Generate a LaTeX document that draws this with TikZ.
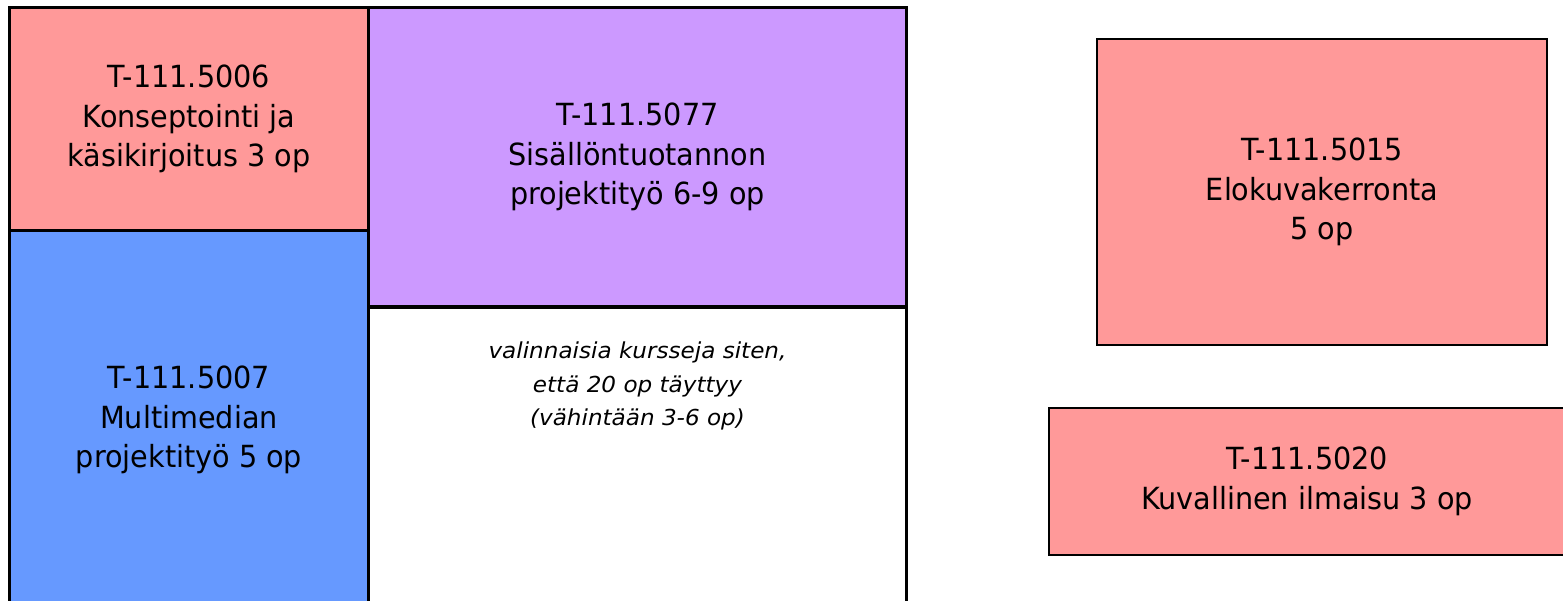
\documentclass[tikz,border=0pt]{standalone}
\usepackage{fontspec}
\setmainfont{DejaVu Sans}[FakeStretch=0.94]
\newfontfamily\notefont{DejaVu Sans}[FakeStretch=1.05]
\definecolor{cpink}{HTML}{FF9999}
\definecolor{cpurple}{HTML}{CC99FF}
\definecolor{cblue}{HTML}{6699FF}
\tikzset{
  course/.style={draw=black, line width=3.4pt, inner sep=0pt, outer sep=0pt, align=center,
    font=\fontsize{30.5}{39.5}\selectfont},
  sidecourse/.style={course, line width=2.3pt},
  note/.style={align=center, inner sep=0pt, font=\notefont\itshape\fontsize{22}{33.5}\selectfont}
}
\begin{document}
\begin{tikzpicture}[x=1pt,y=-1pt]
\useasboundingbox (0,0) rectangle (1563,601);
\clip (0,0) rectangle (1563,601);
\fill[white] (0,0) rectangle (1563,601);
% left block
\node[course, fill=cpink, minimum width=359pt, minimum height=223pt] (konsept) at (189,119)
  {T-111.5006\\Konseptointi ja\\käsikirjoitus 3 op};
\node[course, fill=cblue, minimum width=359pt, minimum height=379.5pt] (multi) at (189,420.25)
  {T-111.5007\\Multimedian\\projektityö 5 op};
\node[course, fill=white, minimum width=538pt, minimum height=303pt] (valinn) at (637.5,458.5) {};
\node[course, fill=cpurple, minimum width=538pt, minimum height=299.5pt] (sisal) at (637.5,157.25)
  {T-111.5077\\Sisällöntuotannon\\projektityö 6-9 op};
\node[note] (notetext) at (637.5,386) {valinnaisia kursseja siten,\\että 20 op täyttyy\\(vähintään 3-6 op)};
% right boxes
\node[sidecourse, fill=cpink, minimum width=450pt, minimum height=306pt] (elok) at (1322,192)
  {T-111.5015\\Elokuvakerronta\\5 op};
\node[sidecourse, fill=cpink, minimum width=516pt, minimum height=147pt] (kuval) at (1307,481.5)
  {T-111.5020\\Kuvallinen ilmaisu 3 op};
\end{tikzpicture}
\end{document}
